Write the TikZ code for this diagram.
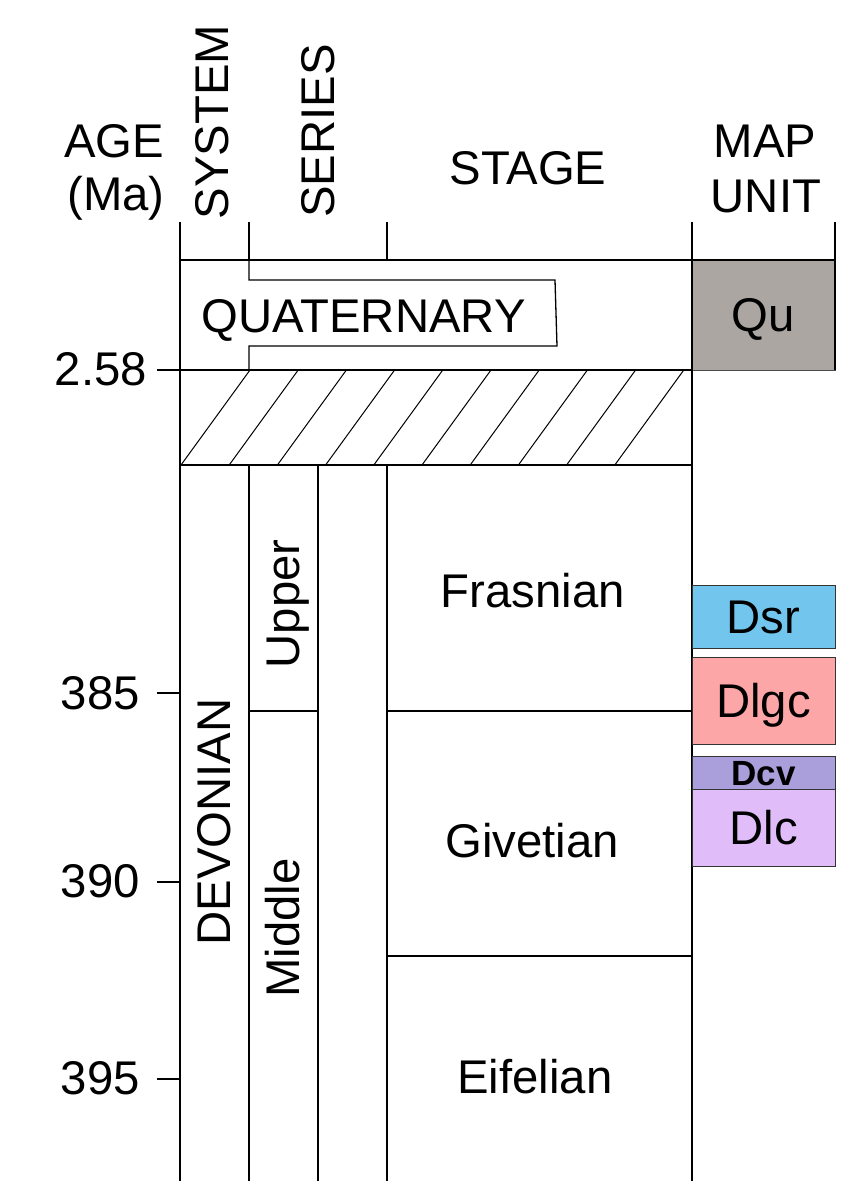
\documentclass[tikz,border=0pt]{standalone}
\usepackage{fontspec}
\setmainfont{Liberation Sans}
\definecolor{quC}{HTML}{ABA6A2}
\definecolor{dsrC}{HTML}{72C6EE}
\definecolor{dlgcC}{HTML}{FDA6A8}
\definecolor{dcvC}{HTML}{AB9FDB}
\definecolor{dlcC}{HTML}{E0BDF9}
\begin{document}
\begin{tikzpicture}[x=1pt,y=-1pt,
  ln/.style={line width=1.3pt,black},
  hatchln/.style={line width=1pt,black},
  lbl/.style={inner sep=0pt,font=\fontsize{47.3}{53}\selectfont},
  vlbl/.style={lbl,rotate=90,text height=33.8pt,text depth=0pt},
  unitbox/.style={draw=black!80,line width=1pt,inner sep=0pt,minimum width=143pt,text height=33.8pt,text depth=0pt,font=\fontsize{47.3}{53}\selectfont}]
\useasboundingbox (0,0) rectangle (861,1181);
% header labels
\node[lbl,anchor=base] (age) at (114,157) {AGE};
\node[lbl,anchor=base] (ma) at (116,210) {(Ma)};
\node[vlbl] (system) at (212,122) {SYSTEM};
\node[vlbl] (series) at (318,131) {SERIES};
\node[lbl,anchor=base] (stage) at (528,184) {STAGE};
\node[lbl,anchor=base] (map) at (765,157) {MAP};
\node[lbl,anchor=base] (unit) at (766,212) {UNIT};
% Qu box
\filldraw[fill=quC,draw=black!70,line width=1pt] (692,260) rectangle (835,370);
\node[lbl,text height=33.8pt,text depth=0pt] (qu) at (763.5,315) {Qu};
% header verticals
\draw[ln] (180,222) -- (180,1181);
\draw[ln] (249,222) -- (249,260);
\draw[ln] (387,222) -- (387,260);
\draw[ln] (692,222) -- (692,1181);
\draw[ln] (835,222) -- (835,370);
% horizontals
\draw[ln] (180,260) -- (835,260);
\draw[ln] (180,370) -- (692,370);
\draw[ln] (180,465) -- (692,465);
% quaternary notch
\draw[ln] (249,260) -- (249,280) -- (555,280) -- (557,346) -- (249,346) -- (249,370);
\node[lbl,anchor=base] (quat) at (363.5,332) {QUATERNARY};
% hatching
\foreach \i in {0,...,9}{
  \draw[hatchln] ({181+48.2*\i},465) -- ({250+48.2*\i},370);
}
% Devonian verticals
\draw[ln] (249,465) -- (249,1181);
\draw[ln] (318,465) -- (318,1181);
\draw[ln] (387,465) -- (387,1181);
\draw[ln] (249,711) -- (318,711);
\draw[ln] (387,711) -- (692,711);
\draw[ln] (387,956) -- (692,956);
% ticks and age labels
\draw[ln] (157,370) -- (180,370);
\draw[ln] (157,693) -- (180,693);
\draw[ln] (157,882) -- (180,882);
\draw[ln] (157,1079) -- (180,1079);
\node[lbl,anchor=base east] (a258) at (147,385) {2.58};
\node[lbl,anchor=base east] (a385) at (140,709) {385};
\node[lbl,anchor=base east] (a390) at (140,897) {390};
\node[lbl,anchor=base east] (a395) at (140,1094) {395};
% rotated column labels
\node[vlbl] (devonian) at (214,822) {DEVONIAN};
\node[vlbl] (upper) at (283,604) {Upper};
\node[vlbl] (middle) at (283,928) {Middle};
% stages
\node[lbl,anchor=base] (frasnian) at (533,607) {Frasnian};
\node[lbl,anchor=base] (givetian) at (532,857) {Givetian};
\node[lbl,anchor=base] (eifelian) at (535,1093) {Eifelian};
% map units
\node[unitbox,fill=dsrC,minimum height=63pt] (dsr) at (763.5,616.5) {Dsr};
\node[unitbox,fill=dlgcC,minimum height=87pt] (dlgc) at (763.5,700.5) {Dlgc};
\node[unitbox,fill=dcvC,minimum height=33pt,text height=25pt,font=\fontsize{35}{40}\selectfont\bfseries] (dcv) at (763.5,772.5) {Dcv};
\node[unitbox,fill=dlcC,minimum height=77pt] (dlc) at (763.5,827.5) {Dlc};
\end{tikzpicture}
\end{document}
